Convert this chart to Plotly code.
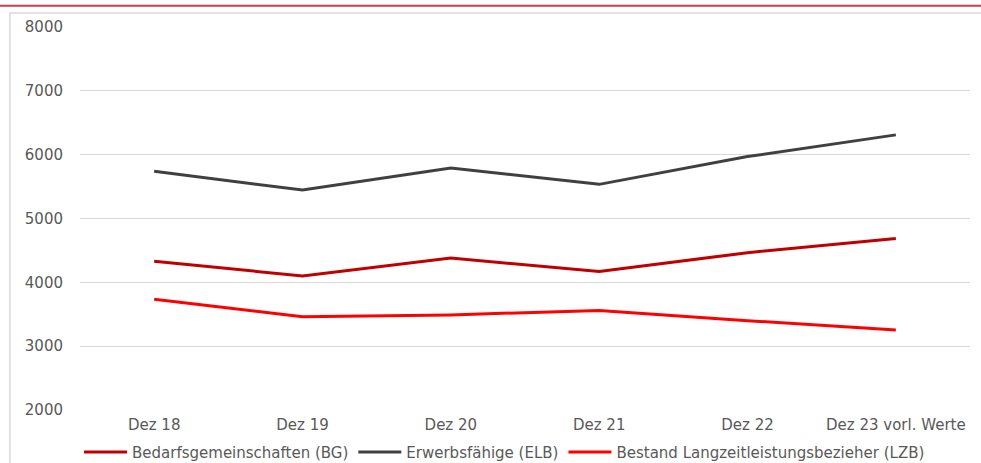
import plotly.graph_objects as go

# Stichtage (Dezember) und Bestände
categories = ["Dez 18", "Dez 19", "Dez 20", "Dez 21", "Dez 22", "Dez 23 vorl. Werte"]
bg_values = [4330, 4100, 4380, 4170, 4465, 4685]      # Bedarfsgemeinschaften
elb_values = [5740, 5445, 5790, 5535, 5970, 6310]     # Erwerbsfähige Leistungsberechtigte
lzb_values = [3735, 3460, 3490, 3560, 3400, 3255]     # Langzeitleistungsbezieher

y_ticks = [2000, 3000, 4000, 5000, 6000, 7000, 8000]

TEXT_GREY = "#595959"
GRID_GREY = "#D9D9D9"
FONT = "DejaVu Sans"
FONT_SIZE = 15

series = [
    ("Bedarfsgemeinschaften (BG)", bg_values, "#C00000"),
    ("Erwerbsfähige (ELB)", elb_values, "#404040"),
    ("Bestand Langzeitleistungsbezieher (LZB)", lzb_values, "#FF0000"),
]

fig = go.Figure()
for name, values, color in series:
    fig.add_trace(go.Scatter(
        x=categories, y=values, name=name, mode="lines",
        line=dict(color=color, width=3),
    ))

fig.update_layout(
    width=981, height=463,
    margin=dict(l=80, r=11, t=27, b=53, autoexpand=False),
    paper_bgcolor="white", plot_bgcolor="white",
    font=dict(family=FONT, size=FONT_SIZE, color=TEXT_GREY),
    showlegend=True,
    legend=dict(
        orientation="h", x=0.477, xanchor="center", y=-0.11, yanchor="middle",
        itemwidth=43,
        font=dict(family=FONT, size=FONT_SIZE, color=TEXT_GREY),
        bgcolor="rgba(0,0,0,0)",
    ),
    xaxis=dict(
        range=[-0.5, len(categories) - 0.5],
        showgrid=False, showline=False, zeroline=False, ticks="",
        tickfont=dict(family=FONT, size=FONT_SIZE, color=TEXT_GREY),
        ticklabelstandoff=4, automargin=False,
    ),
    yaxis=dict(
        range=[2000, 8000], tickvals=y_ticks,
        showgrid=True, gridcolor=GRID_GREY, gridwidth=1.2,
        showline=False, zeroline=False, ticks="",
        tickfont=dict(family=FONT, size=FONT_SIZE, color=TEXT_GREY),
        ticklabelstandoff=16, automargin=False,
    ),
    shapes=[
        # heller Rahmen um die Grafik (links und oben)
        dict(type="path", xref="paper", yref="paper",
             path="M -0.0787,-0.2 L -0.0787,1.0366 L 1.05,1.0366",
             line=dict(color=GRID_GREY, width=1.5)),
        # rote Linie am oberen Rand
        dict(type="line", xref="paper", yref="paper",
             x0=-0.1, x1=1.05, y0=1.0555, y1=1.0555,
             line=dict(color="#D9364B", width=2)),
    ],
)

fig.write_html("out.html")
